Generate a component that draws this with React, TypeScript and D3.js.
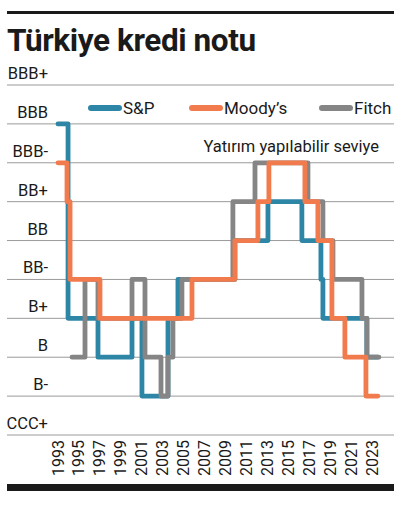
import React from "react";
import * as d3 from "d3";

const ratingLabels = ["CCC+", "B-", "B", "B+", "BB-", "BB", "BB+", "BBB-", "BBB", "BBB+"];
const tickYears = d3.range(1993, 2024, 2);

const spDates = [1993.0, 1993.96, 1996.82, 2000.07, 2001.02, 2003.51, 2004.46, 2009.9, 2013.06, 2016.3, 2018.12, 2018.31, 2022.51, 2023.56];
const spLevels = [8, 3, 2, 3, 1, 3, 4, 5, 6, 5, 4, 3, 2, 2];

const moodysDates = [1993.0, 1993.86, 1994.15, 1997.01, 2005.8, 2009.9, 2012.1, 2013.15, 2016.59, 2017.83, 2019.17, 2020.41, 2022.42, 2023.56];
const moodysLevels = [7, 6, 4, 3, 4, 5, 6, 7, 6, 5, 3, 2, 1, 1];

const fitchDates = [1994.34, 1995.58, 1996.82, 2000.07, 2001.31, 2002.84, 2003.51, 2003.98, 2004.84, 2009.71, 2011.82, 2016.88, 2018.31, 2019.27, 2022.04, 2022.51, 2023.66];
const fitchLevels = [2, 4, 3, 4, 2, 1, 2, 3, 4, 6, 7, 6, 5, 4, 3, 2, 2];

const seriesNames = ["S&P", "Moody’s", "Fitch"];
const seriesColors = ["#2e86a7", "#f27b4e", "#858585"];

const FONT = "Roboto, 'Open Sans', sans-serif";

export default function App() {
  const x = d3.scaleLinear().domain([1993, 2023]).range([58, 372]);
  const y = d3.scaleLinear().domain([0, 9]).range([435, 85]);
  const line = d3
    .line<[number, number]>()
    .x((d) => x(d[0]))
    .y((d) => y(d[1]))
    .curve(d3.curveStepAfter);

  const series = [
    { name: seriesNames[0], color: seriesColors[0], pts: spDates.map((d, i) => [d, spLevels[i]] as [number, number]) },
    { name: seriesNames[1], color: seriesColors[1], pts: moodysDates.map((d, i) => [d, moodysLevels[i]] as [number, number]) },
    { name: seriesNames[2], color: seriesColors[2], pts: fitchDates.map((d, i) => [d, fitchLevels[i]] as [number, number]) },
  ];
  // draw order: S&P, Fitch, Moody's on top
  const drawOrder = [0, 2, 1];

  const legendX = [91, 192, 322];

  return (
    <svg width={411} height={520} style={{ position: "absolute", left: 0, top: 0, background: "#fff" }} fontFamily={FONT}>
      <rect x={7} y={11} width={387} height={3} fill="#1a1a1a" />
      <text x={7} y={51} fontSize={31.5} fontWeight={700} fill="#1a1a1a" letterSpacing={-0.4}>
        Türkiye kredi notu
      </text>

      {ratingLabels.map((lab, i) => (
        <g key={lab}>
          <line x1={7} x2={394} y1={y(i)} y2={y(i)} stroke="#9a9a9a" strokeWidth={1} />
          <text x={48} y={y(i) - 6} textAnchor="end" fontSize={16.5} fill="#1a1a1a">
            {lab}
          </text>
        </g>
      ))}

      {series.map((s, i) => (
        <g key={s.name}>
          <line x1={legendX[i]} x2={legendX[i] + 28} y1={108} y2={108} stroke={s.color} strokeWidth={6} strokeLinecap="round" />
          <text x={legendX[i] + 32} y={114} fontSize={17} fill="#1a1a1a">
            {s.name}
          </text>
        </g>
      ))}

      <text x={379} y={152} textAnchor="end" fontSize={16.5} fill="#1a1a1a">
        Yatırım yapılabilir seviye
      </text>

      {drawOrder.map((i) => {
        const s = series[i];
        return (
          <path
            key={s.name}
            d={line(s.pts) || ""}
            fill="none"
            stroke={s.color}
            strokeWidth={4.8}
            strokeLinejoin="round"
            strokeLinecap="round"
          />
        );
      })}

      {tickYears.map((yr) => (
        <text
          key={yr}
          transform={`translate(${x(yr)},440) rotate(-90)`}
          textAnchor="end"
          dominantBaseline="central"
          fontSize={16}
          fill="#1a1a1a"
        >
          {yr}
        </text>
      ))}

      <rect x={7} y={484} width={387} height={7} fill="#1a1a1a" />
    </svg>
  );
}
